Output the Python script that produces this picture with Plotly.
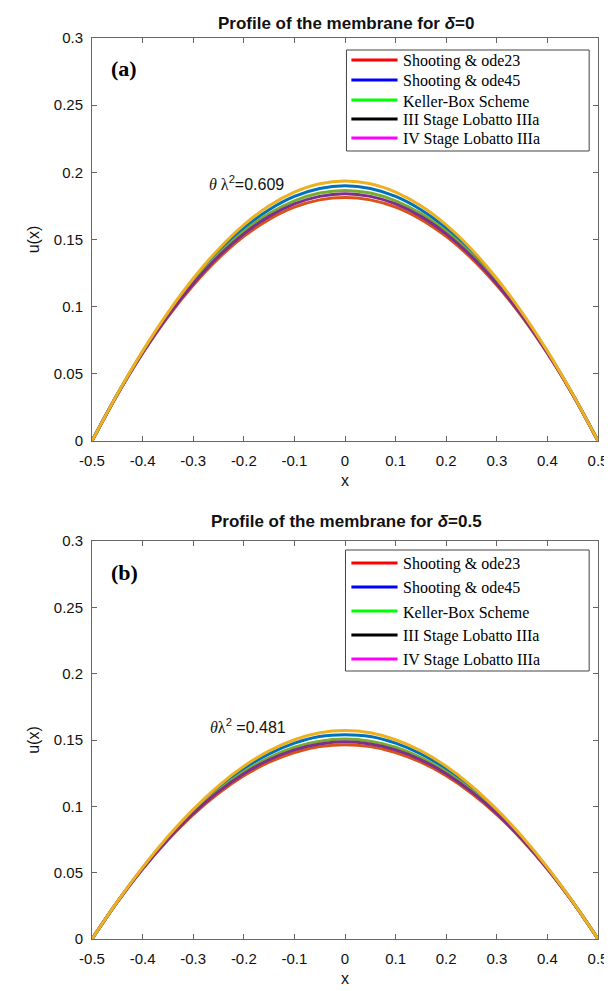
import plotly.graph_objects as go
from plotly.subplots import make_subplots

# ---------------- data ----------------
x = [-0.5, -0.45, -0.4, -0.35, -0.3, -0.25, -0.2, -0.15, -0.1, -0.05, 0.0,
     0.05, 0.1, 0.15, 0.2, 0.25, 0.3, 0.35, 0.4, 0.45, 0.5]

# panel (a): delta = 0
a_ode23 = [0, 0.0345, 0.0653, 0.0925, 0.1160, 0.1360, 0.1523, 0.1650, 0.1741, 0.1795, 0.1813,
           0.1795, 0.1741, 0.1650, 0.1523, 0.1360, 0.1160, 0.0925, 0.0653, 0.0345, 0]
a_ode45 = [0, 0.0348, 0.0664, 0.0947, 0.1196, 0.1409, 0.1584, 0.1722, 0.1821, 0.1880, 0.1900,
           0.1880, 0.1821, 0.1722, 0.1584, 0.1409, 0.1196, 0.0947, 0.0664, 0.0348, 0]
a_keller = [0, 0.0346, 0.0659, 0.0938, 0.1182, 0.1389, 0.1560, 0.1693, 0.1788, 0.1846, 0.1865,
            0.1846, 0.1788, 0.1693, 0.1560, 0.1389, 0.1182, 0.0938, 0.0659, 0.0346, 0]
a_lob3 = [0, 0.0346, 0.0656, 0.0932, 0.1171, 0.1375, 0.1542, 0.1672, 0.1765, 0.1821, 0.1840,
          0.1821, 0.1765, 0.1672, 0.1542, 0.1375, 0.1171, 0.0932, 0.0656, 0.0346, 0]
a_lob4 = [0, 0.0349, 0.0669, 0.0956, 0.1210, 0.1428, 0.1609, 0.1751, 0.1853, 0.1915, 0.1935,
          0.1915, 0.1853, 0.1751, 0.1609, 0.1428, 0.1210, 0.0956, 0.0669, 0.0349, 0]

# panel (b): delta = 0.5
b_ode23 = [0, 0.0278, 0.0527, 0.0747, 0.0938, 0.1099, 0.1231, 0.1333, 0.1406, 0.1450, 0.1465,
           0.1450, 0.1406, 0.1333, 0.1231, 0.1099, 0.0938, 0.0747, 0.0527, 0.0278, 0]
b_ode45 = [0, 0.0280, 0.0536, 0.0765, 0.0967, 0.1140, 0.1283, 0.1395, 0.1476, 0.1526, 0.1540,
           0.1526, 0.1476, 0.1395, 0.1283, 0.1140, 0.0967, 0.0765, 0.0536, 0.0280, 0]
b_keller = [0, 0.0279, 0.0532, 0.0757, 0.0954, 0.1122, 0.1260, 0.1367, 0.1445, 0.1491, 0.1507,
            0.1491, 0.1445, 0.1367, 0.1260, 0.1122, 0.0954, 0.0757, 0.0532, 0.0279, 0]
b_lob3 = [0, 0.0279, 0.0530, 0.0752, 0.0946, 0.1111, 0.1246, 0.1351, 0.1426, 0.1470, 0.1486,
          0.1470, 0.1426, 0.1351, 0.1246, 0.1111, 0.0946, 0.0752, 0.0530, 0.0279, 0]
b_lob4 = [0, 0.0281, 0.0540, 0.0772, 0.0977, 0.1155, 0.1302, 0.1418, 0.1502, 0.1554, 0.1571,
          0.1554, 0.1502, 0.1418, 0.1302, 0.1155, 0.0977, 0.0772, 0.0540, 0.0281, 0]

series_names = ["Shooting & ode23", "Shooting & ode45", "Keller-Box Scheme",
                "III Stage Lobatto IIIa", "IV Stage Lobatto IIIa"]
panel_a = [a_ode23, a_ode45, a_keller, a_lob3, a_lob4]
panel_b = [b_ode23, b_ode45, b_keller, b_lob3, b_lob4]

x_ticks = [-0.5, -0.4, -0.3, -0.2, -0.1, 0, 0.1, 0.2, 0.3, 0.4, 0.5]
x_tick_labels = ["-0.5", "-0.4", "-0.3", "-0.2", "-0.1", "0", "0.1", "0.2", "0.3", "0.4", "0.5"]
y_ticks = [0, 0.05, 0.1, 0.15, 0.2, 0.25, 0.3]
y_tick_labels = ["0", "0.05", "0.1", "0.15", "0.2", "0.25", "0.3"]

titles = ["Profile of the membrane for <i>δ</i>=0", "Profile of the membrane for <i>δ</i>=0.5"]
panel_tags = ["(a)", "(b)"]
param_texts = ["<span style='font-family:Liberation Serif'><i>θ</i> λ</span><sup>2</sup>=0.609",
               "<span style='font-family:Liberation Serif'><i>θ</i>λ</span><sup>2</sup> =0.481"]

# ---------------- styles ----------------
curve_colors = ["#D95319", "#0072BD", "#77AC30", "#7E2F8E", "#EDB120"]
legend_colors = ["#FF0000", "#0000FF", "#00FF00", "#000000", "#FF00FF"]

W, H = 612, 991
ML, MR, MT, MB = 84, 13, 30, 60
PW, PH = W - ML - MR, H - MT - MB


def px(xp):
    return (xp - ML) / PW


def py(yp):
    return (H - MB - yp) / PH


fig = make_subplots(rows=2, cols=1)

for row, panel in ((1, panel_a), (2, panel_b)):
    for name, ys, col in zip(series_names, panel, curve_colors):
        fig.add_trace(go.Scatter(x=x, y=ys, mode="lines", name=name, showlegend=False,
                                 line=dict(color=col, width=3, shape="spline")),
                      row=row, col=1)

axis_common = dict(showline=True, linecolor="#666666", linewidth=1, mirror="ticks",
                   ticks="inside", ticklen=5, tickcolor="#666666", showgrid=False,
                   zeroline=False, tickfont=dict(family="Liberation Sans", size=15, color="#111111"))

for r in (1, 2):
    fig.update_xaxes(range=[-0.5, 0.5], tickvals=x_ticks, ticktext=x_tick_labels,
                     title=dict(text="x", font=dict(family="Liberation Sans", size=16, color="#111111"),
                                standoff=6),
                     ticklabelstandoff=6, **axis_common, row=r, col=1)
    fig.update_yaxes(range=[0, 0.3], tickvals=y_ticks, ticktext=y_tick_labels,
                     title=dict(text="u(x)", font=dict(family="Liberation Sans", size=16, color="#111111"),
                                standoff=10),
                     ticklabelstandoff=5, **axis_common, row=r, col=1)

fig.update_layout(
    yaxis=dict(domain=[py(433), 1.0]),
    yaxis2=dict(domain=[0.0, py(533)]),
    xaxis=dict(domain=[0, 1]),
    xaxis2=dict(domain=[0, 1]),
)

annotations = []
shapes = []

# panel geometry in pixels
panels = [
    dict(title_y=15, tag_y=61, param=(241, 175),
         box=(343, 42, 590, 143), rows=[52, 72, 92, 111, 130]),
    dict(title_y=513, tag_y=564, param=(243, 718),
         box=(342, 542, 590, 663), rows=[555, 579, 603, 627, 651]),
]

for i, p in enumerate(panels):
    annotations.append(dict(text="<b>" + titles[i] + "</b>", x=px(343), y=py(p["title_y"]),
                            xref="paper", yref="paper", showarrow=False,
                            xanchor="center", yanchor="middle",
                            font=dict(family="Liberation Sans", size=17, color="#111111")))
    annotations.append(dict(text="<b>" + panel_tags[i] + "</b>", x=px(101), y=py(p["tag_y"]),
                            xref="paper", yref="paper", showarrow=False,
                            xanchor="left", yanchor="middle",
                            font=dict(family="Liberation Serif", size=22, color="#000000")))
    annotations.append(dict(text=param_texts[i], x=px(p["param"][0]), y=py(p["param"][1]),
                            xref="paper", yref="paper", showarrow=False,
                            xanchor="center", yanchor="middle",
                            font=dict(family="Liberation Sans", size=16, color="#111111")))
    x0, y0, x1, y1 = p["box"]
    shapes.append(dict(type="rect", xref="paper", yref="paper",
                       x0=px(x0), x1=px(x1), y0=py(y0), y1=py(y1),
                       line=dict(color="#444444", width=1), fillcolor="white", layer="above"))
    for yy, name, col in zip(p["rows"], series_names, legend_colors):
        shapes.append(dict(type="line", xref="paper", yref="paper",
                           x0=px(348), x1=px(395), y0=py(yy), y1=py(yy),
                           line=dict(color=col, width=3), layer="above"))
        annotations.append(dict(text=name.replace("&", "&amp;"), x=px(399), y=py(yy + 1),
                                xref="paper", yref="paper", showarrow=False,
                                xanchor="left", yanchor="middle",
                                font=dict(family="Liberation Serif", size=16, color="#000000")))

fig.update_layout(
    width=W, height=H,
    margin=dict(l=ML, r=MR, t=MT, b=MB),
    paper_bgcolor="white", plot_bgcolor="white",
    showlegend=False,
    annotations=annotations,
    shapes=shapes,
)

fig.write_html("out.html")
